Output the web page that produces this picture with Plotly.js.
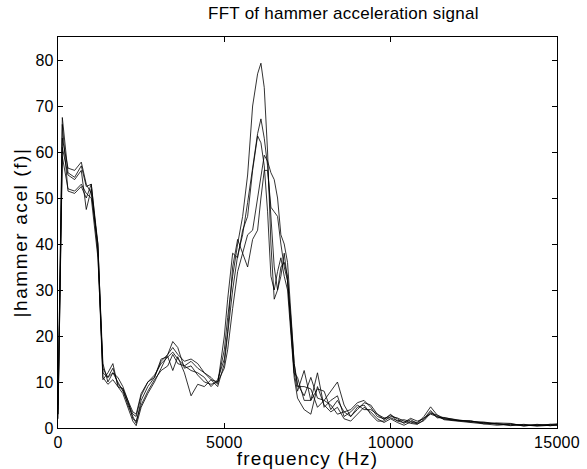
<!DOCTYPE html>
<html>
<head>
<meta charset="utf-8">
<script src="https://cdn.plot.ly/plotly-3.0.1.min.js"></script>
<style>
html,body{margin:0;padding:0;background:#fff;}
#chart{width:587px;height:469px;}
#chart .xtitle{letter-spacing:1.2px;}
#chart .ytitle{letter-spacing:1.6px;}
#chart .gtitle{letter-spacing:0.25px;}
#chart .xtick text, #chart .ytick text{letter-spacing:0.3px;}
</style>
</head>
<body>
<div id="chart"></div>
<script>
var freq = [0,130,300,500,700,850,1000,1200,1350,1500,1650,1800,1950,2100,2250,2350,2500,2700,2900,3100,3300,3450,3600,3800,4000,4200,4400,4600,4800,5000,5100,5250,5400,5550,5700,5850,6000,6100,6200,6300,6400,6500,6600,6700,6800,6900,7000,7100,7200,7400,7600,7800,8000,8200,8400,8600,8800,9000,9200,9400,9600,9800,10000,10200,10400,10600,10800,11000,11200,11400,11600,12000,12400,12800,13200,13600,14000,14400,14800,15000];

var hitA = [3,63,56.5,56,57.8,53,51,40,12,11,13,9.5,8.5,5,2.5,1,6,9,11,14.5,16,18.8,17.5,13,13.5,11.5,10,9.5,10,17,24,33,40,46,55,70,77,79.3,74,60,40,28,30,35,36,33,22,12,8,12.5,6,8.5,8,4,6,3.5,4,5.5,6,4.5,2.5,2,2.8,2,1,1.8,1,2.5,4.6,2.8,2.2,1.8,1.4,1.2,0.8,0.9,0.6,0.7,0.5,0.8];
var hitB = [5,67.5,55.5,54.5,57,52.5,53,39,14,10,12,10,8,5.5,3,2.5,7,10,11.5,14,15.5,16.5,15,13.5,14.5,13,12,10.5,9,14,20,30,37.5,42,49,57,64,67.2,63,57,45,35,30,33,38,32,24,14,9.5,7,11,6.5,6,8,10,5,2.5,4,5.5,5,3,1.8,3,1.5,1.2,2.1,1.5,2,3.8,2.4,2,1.6,1.5,1.1,1,0.5,0.8,0.5,0.8,0.6];
var hitC = [2,61,55,54,56,47.5,52,38,10.5,12,14,9,7.5,4.5,1.5,0.5,4.5,7.5,10,13,16,17.5,16,14.5,15,14,12,11,9.5,20,28,38,37,43,46,56,63.5,62,57,47,33,30,34,37,33,30,20,11,6.5,4,3,9,5,3.5,4.5,2,1.5,3,4.5,3.5,2,1.2,2,1.2,0.6,1.3,0.9,1.6,3.2,2.8,1.8,1.5,1.2,1,0.6,0.8,0.5,0.6,0.7,0.9];
var hitD = [4,66,51.5,51,52.5,50,53,40,11,9.5,10.5,9,8.5,6,3.5,3,7.5,10,11,15,15.5,12.5,15.5,12,7,9.5,9,10.5,10,13,17,26,34,38,42,43,50,55,59.3,58,55.5,54,50,42,40,36,25,14,9,9,8.5,4.5,6,5,3,3.5,2.5,4.5,5,3,1.5,1.5,2.5,2.2,1.5,1,0.8,1.8,3.5,2.2,2.3,1.7,1.3,1.3,0.9,0.6,0.7,0.4,0.6,0.7];
var hitE = [3,59,52,51.5,53,51,50,37,13,11,12,11,9,6,2,1.5,5,8,10.5,12.5,13.5,16,14,13.5,12.5,12,11,9,10.5,15,21,35,41,38,35,41,43,50,56,56,48,47,46,40,35,32,22,12,11,6,6,12,4.5,6,7,2.5,3.5,5,4,4,3,2.2,2.2,1.6,1.8,1.4,1.2,2.2,3,2.5,2,1.6,1.6,0.9,1.1,1,0.4,0.8,0.5,0.6];

var xTicks = [0,5000,10000,15000];
var yTicks = [0,10,20,30,40,50,60,70,80];

var series = [hitA, hitB, hitC, hitD, hitE];
var traces = series.map(function(s){
  return {x: freq, y: s, type: 'scatter', mode: 'lines',
          line: {color: '#000', width: 0.8}, hoverinfo: 'none', showlegend: false};
});

var fam = 'Liberation Sans, Arial, sans-serif';
var tickF = {family: fam, size: 16, color: '#000'};
var labF = {family: fam, size: 19, color: '#000'};
var layout = {
  width: 587, height: 469,
  margin: {l: 58, r: 30, t: 37, b: 41},
  paper_bgcolor: '#fff', plot_bgcolor: '#fff',
  font: tickF,
  title: {text: 'FFT of hammer acceleration signal', font: {family: fam, size: 17, color: '#000'}, x: 0.585, xanchor: 'center', y: 0.985, yanchor: 'top'},
  xaxis: {range: [0, 15000], tickvals: xTicks, ticktext: xTicks.map(String), ticks: 'inside', ticklen: 5, tickcolor: '#000',
          showline: true, mirror: 'ticks', linecolor: '#000', linewidth: 1, showgrid: false, zeroline: false,
          tickfont: tickF, title: {text: 'frequency (Hz)', font: labF, standoff: 1}},
  yaxis: {range: [0, 85], tickvals: yTicks, ticktext: yTicks.map(String), ticks: 'inside', ticklen: 5, tickcolor: '#000',
          showline: true, mirror: 'ticks', linecolor: '#000', linewidth: 1, showgrid: false, zeroline: false,
          tickfont: tickF, title: {text: '|hammer acel (f)|', font: labF, standoff: 3}}
};
Plotly.newPlot('chart', traces, layout, {displayModeBar: false, staticPlot: true});
</script>
</body>
</html>
